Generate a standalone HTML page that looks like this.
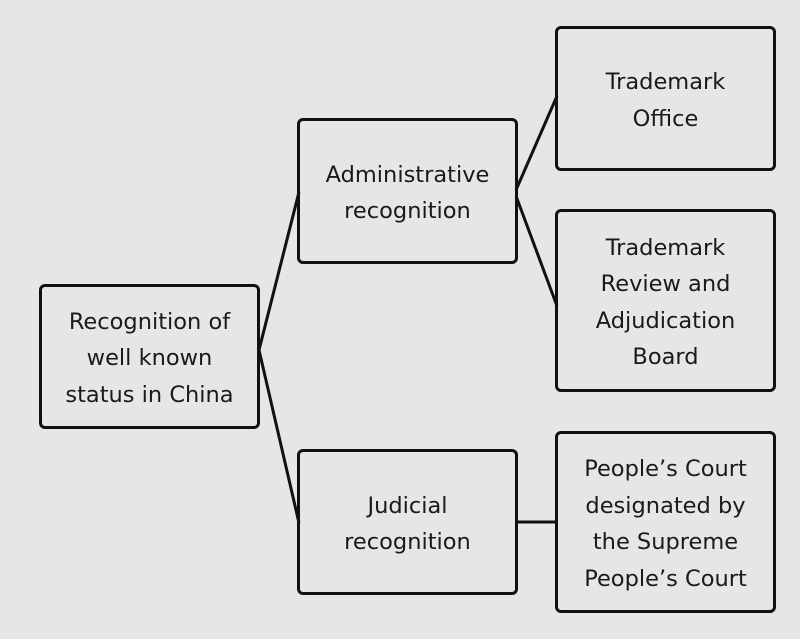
<!DOCTYPE html>
<html><head><style>
body{margin:0;width:800px;height:639px;background:#e6e6e6;position:relative;overflow:hidden;font-family:"DejaVu Sans","Liberation Sans",sans-serif;}
.b{position:absolute;box-sizing:border-box;border:3px solid #111;border-radius:6px;display:flex;align-items:center;justify-content:center;text-align:center;font-size:22.5px;line-height:36.5px;color:#1a1a1a;padding-top:4px;}
svg{position:absolute;left:0;top:0}
</style></head><body>
<svg width="800" height="639"><g stroke="#111" stroke-width="3" fill="none">
<line x1="259" y1="350" x2="299" y2="192"/>
<line x1="259" y1="350" x2="299" y2="523"/>
<line x1="516" y1="190" x2="557" y2="96"/>
<line x1="516" y1="196" x2="557" y2="306"/>
<line x1="516" y1="522" x2="557" y2="522"/>
</g></svg>
<div class="b" style="left:39px;top:284px;width:221px;height:145px">Recognition of<br>well known<br>status in China</div>
<div class="b" style="left:297px;top:118px;width:221px;height:146px">Administrative<br>recognition</div>
<div class="b" style="left:297px;top:449px;width:221px;height:146px">Judicial<br>recognition</div>
<div class="b" style="left:555px;top:26px;width:221px;height:145px">Trademark<br>Office</div>
<div class="b" style="left:555px;top:209px;width:221px;height:183px">Trademark<br>Review and<br>Adjudication<br>Board</div>
<div class="b" style="left:555px;top:431px;width:221px;height:182px">People’s Court<br>designated by<br>the Supreme<br>People’s Court</div>
</body></html>
